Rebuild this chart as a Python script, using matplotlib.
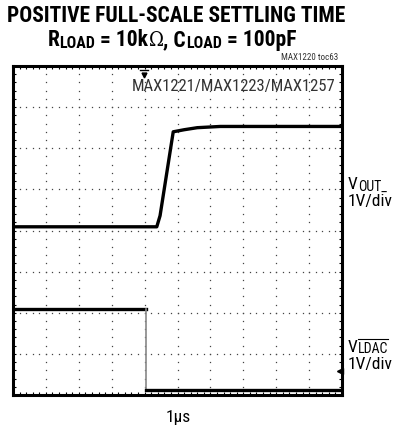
import numpy as np
import matplotlib
matplotlib.use("Agg")
import matplotlib.pyplot as plt

COND = ['Roboto Condensed', 'Archivo Narrow', 'DejaVu Sans']
plt.rcParams['font.family'] = COND
plt.rcParams['font.stretch'] = 'condensed'

# Screen: 10 horizontal x 8 vertical divisions
n_xdiv = 10
n_ydiv = 8

# Channel 1: VOUT_ (divisions)
vout_t = [0.0, 4.37, 4.47, 4.87, 5.2, 5.6, 6.3, 10.0]
vout_v = [4.09, 4.09, 4.36, 6.40, 6.45, 6.50, 6.53, 6.53]

# Channel 2: LDAC (divisions)
ldac_t = [0.0, 4.04, 4.04, 10.0]
ldac_v = [2.08, 2.08, 0.13, 0.13]

W, H = 400, 431
fig = plt.figure(figsize=(W / 100, H / 100), dpi=100)
ax = fig.add_axes([13 / W, 35 / H, 329 / W, 329 / H])
ax.set_xlim(0, n_xdiv)
ax.set_ylim(0, n_ydiv)

# dotted graticule
minor = 0.2
for gx in range(1, n_xdiv):
    ys = np.arange(0, n_ydiv + 1e-9, minor)
    ax.plot(np.full_like(ys, gx), ys, ls='none', marker='s', ms=0.9,
            mec='none', mfc='#444444', zorder=1)
for gy in range(1, n_ydiv):
    xs = np.arange(0, n_xdiv + 1e-9, minor)
    ax.plot(xs, np.full_like(xs, gy), ls='none', marker='s', ms=0.9,
            mec='none', mfc='#444444', zorder=1)

ax.set_xticks([])
ax.set_yticks([])
ax.set_xticks(np.arange(0, n_xdiv + 1e-9, minor), minor=True)
ax.set_yticks(np.arange(0, n_ydiv + 1e-9, minor), minor=True)
ax.tick_params(which='minor', direction='in', length=2.5, width=0.8,
               top=True, right=True, labelbottom=False, labelleft=False)
for s in ax.spines.values():
    s.set_linewidth(2.2)

# traces
ax.plot(vout_t, vout_v, color='black', lw=2.4, solid_joinstyle='round', zorder=3)
ax.plot(ldac_t[:2], ldac_v[:2], color='black', lw=2.4, zorder=3)
ax.plot(ldac_t[1:3], ldac_v[1:3], color='#888888', lw=1.2, zorder=3)
ax.plot(ldac_t[2:], ldac_v[2:], color='black', lw=2.4, zorder=3)

# trigger marker
ax.plot([3.85, 4.1], [7.9, 7.9], color='black', lw=1.0, clip_on=False)
ax.plot([3.97], [7.78], marker='v', ms=3.5, color='black', clip_on=False)
# channel ground marker
ax.plot([9.93], [0.59], marker='<', ms=4, color='black', clip_on=False, zorder=4)

ax.text(9.8, 7.52, 'MAX1221/MAX1223/MAX1257', ha='right', va='center',
        fontsize=12, color='#333333')

fig.text(176 / W, 1 - 15.5 / H, 'POSITIVE FULL-SCALE SETTLING TIME',
         ha='center', va='center', fontsize=15.5, fontweight='bold')
fig.text(338 / W, 1 - 58 / H, 'MAX1220 toc63', ha='right', va='center',
         fontsize=6.5, color='#333333')
fig.text(348 / W, 1 - 202 / H, '1V/div', ha='left', va='center', fontsize=12.5)
fig.text(348 / W, 1 - 365 / H, '1V/div', ha='left', va='center', fontsize=12.5)
fig.text(178 / W, 1 - 418 / H, '1µs', ha='center', va='center', fontsize=12.5)

renderer = fig.canvas.get_renderer()


def run(pieces, x, y_base, align='left'):
    """Lay out text pieces side by side on a common baseline (pixel coords).
    pieces: (string, size, weight, baseline shift px, family)"""
    arts = []
    for s, size, weight, dy, fam in pieces:
        t = fig.text(0, 0, s, fontsize=size, fontweight=weight, family=fam,
                     va='baseline', ha='left', transform=None)
        arts.append((t, dy))
    widths = [t.get_window_extent(renderer).width for t, _ in arts]
    total = sum(widths)
    x0 = x - total / 2 if align == 'center' else x
    for (t, dy), w in zip(arts, widths):
        t.set_position((x0, y_base - dy))
        x0 += w
    return [t for t, _ in arts]


# load conditions line
run([('R', 15.5, 'bold', 0, COND),
     ('LOAD', 11.5, 'bold', 2, COND),
     (' = 10k', 15.5, 'bold', 0, COND),
     ('\u03a9', 14.5, 'normal', 0, ['DejaVu Serif']),
     (', C', 15.5, 'bold', 0, COND),
     ('LOAD', 11.5, 'bold', 2, COND),
     (' = 100pF', 15.5, 'bold', 0, COND)],
    172, H - 46, align='center')

# channel labels
run([('V', 12.5, 'normal', 0, COND), ('OUT_', 10, 'normal', 1.5, COND)],
    348, H - 189)
ldac = run([('V', 12.5, 'normal', 0, COND), ('LDAC', 10, 'normal', 1.5, COND)],
           348, H - 352)
bb = ldac[1].get_window_extent(renderer)
fig.add_artist(plt.Line2D([bb.x0 + 0.5, bb.x1 - 0.5], [H - 340, H - 340],
                          transform=None, color='black', lw=0.8))

fig.savefig('out.png', dpi=100)
